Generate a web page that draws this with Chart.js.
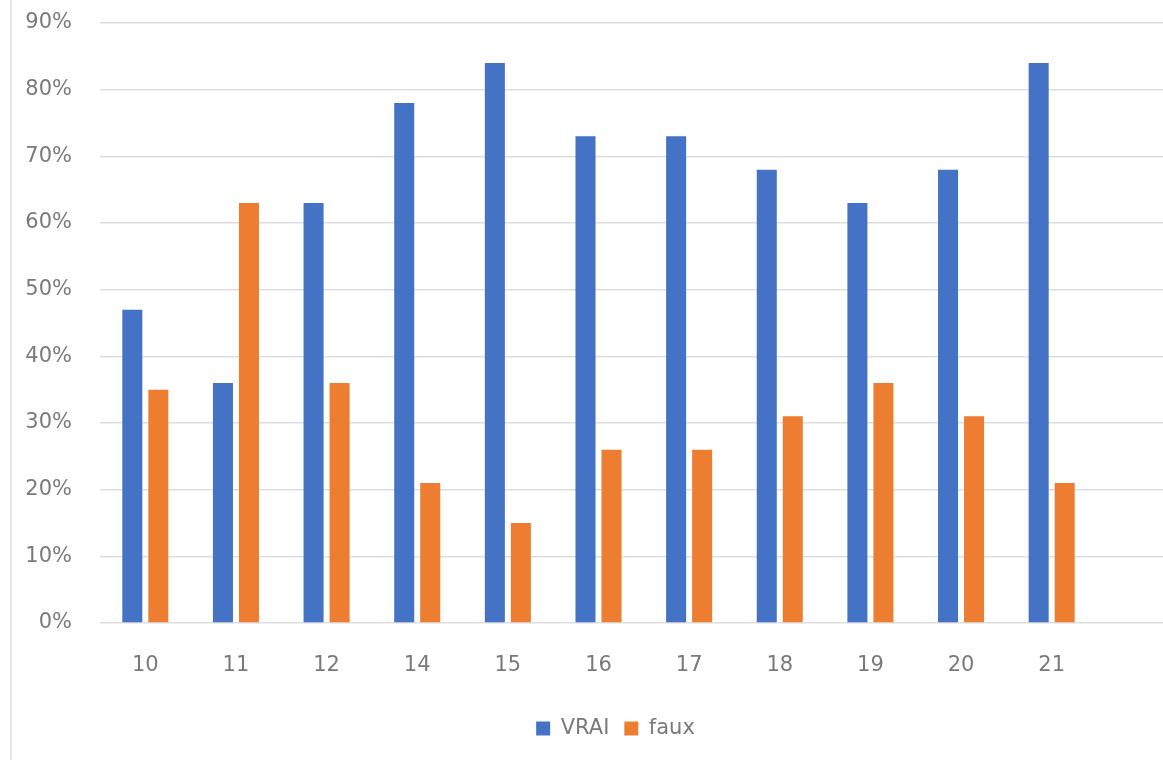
<!DOCTYPE html>
<html>
<head>
<meta charset="utf-8">
<script src="https://cdn.jsdelivr.net/npm/chart.js@4/dist/chart.umd.min.js"></script>
<style>
  html, body { margin: 0; padding: 0; background: #ffffff; }
  #wrap { position: relative; width: 1163px; height: 760px; overflow: hidden; }
  #edge { position: absolute; left: 10px; top: 0; width: 2px; height: 760px; background: #e6e6e6; }
  canvas { position: absolute; left: 0; top: 0; }
</style>
</head>
<body>
<div id="wrap">
  <div id="edge"></div>
  <canvas id="chart" width="1163" height="760"></canvas>
</div>
<script>
// Categories and percentages per series
const categories = ['10', '11', '12', '14', '15', '16', '17', '18', '19', '20', '21'];
const vraiValues = [47, 36, 63, 78, 84, 73, 73, 68, 63, 68, 84];
const fauxValues = [35, 63, 36, 21, 15, 26, 26, 31, 36, 31, 21];
const yTicks = [0, 10, 20, 30, 40, 50, 60, 70, 80, 90];

const textColor = '#7a7a7a';
const gridColor = '#dedede';
const gridWidth = 1.5;
const fontFamily = '"DejaVu Sans", sans-serif';

// Horizontal gridlines continue past the last category to the right edge
const gridExtension = {
  id: 'gridExtension',
  beforeDatasetsDraw(chart) {
    const { ctx, chartArea, scales } = chart;
    const half = gridWidth / 2;
    ctx.save();
    ctx.strokeStyle = gridColor;
    ctx.lineWidth = gridWidth;
    yTicks.forEach(v => {
      const y = Math.round(scales.y.getPixelForValue(v) - half) + half;
      ctx.beginPath();
      ctx.moveTo(chartArea.right, y);
      ctx.lineTo(chart.width, y);
      ctx.stroke();
    });
    ctx.restore();
  }
};

// Nudge the legend row slightly right of the plot centre
const legendShift = {
  id: 'legendShift',
  afterLayout(chart) {
    if (chart.legend) chart.legend.left += 34;
  }
};

new Chart(document.getElementById('chart'), {
  type: 'bar',
  data: {
    labels: categories,
    datasets: [
      { label: 'VRAI', data: vraiValues, backgroundColor: '#4472c4', borderWidth: 0 },
      { label: 'faux', data: fauxValues, backgroundColor: '#ed7d31', borderWidth: 0 }
    ]
  },
  options: {
    responsive: false,
    animation: false,
    layout: { padding: { left: 0, right: 66, top: 23, bottom: 11 } },
    datasets: {
      bar: { categoryPercentage: 0.574, barPercentage: 0.77 }
    },
    scales: {
      x: {
        grid: { display: false, drawTicks: false },
        border: { display: false },
        ticks: { color: textColor, font: { family: fontFamily, size: 21 }, padding: 30 },
        afterFit(s) { s.height = 80; s.paddingLeft = 0; s.paddingRight = 0; }
      },
      y: {
        min: 0,
        max: 90,
        afterBuildTicks(s) { s.ticks = yTicks.map(v => ({ value: v })); },
        grid: { color: gridColor, lineWidth: gridWidth, drawTicks: false },
        border: { display: false },
        ticks: {
          color: textColor,
          font: { family: fontFamily, size: 21 },
          padding: 28,
          callback: v => v + '%'
        },
        afterFit(s) { s.width = 100; s.paddingTop = 0; s.paddingBottom = 0; }
      }
    },
    plugins: {
      legend: {
        position: 'bottom',
        fullSize: false,
        labels: {
          color: textColor,
          font: { family: fontFamily, size: 21 },
          boxWidth: 14,
          boxHeight: 14,
          padding: 15
        }
      },
      tooltip: { enabled: false }
    }
  },
  plugins: [gridExtension, legendShift]
});
</script>
</body>
</html>
